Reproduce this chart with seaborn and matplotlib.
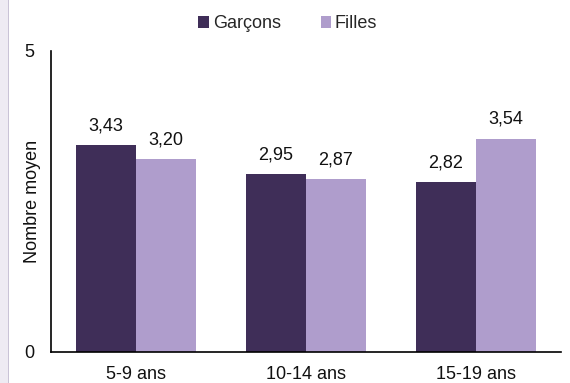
import matplotlib
matplotlib.use("Agg")
import matplotlib.pyplot as plt
from matplotlib.patches import Rectangle, Patch
import seaborn as sns
import pandas as pd

# Average number by age group and sex
age_groups = ["5-9 ans", "10-14 ans", "15-19 ans"]
garcons = [3.43, 2.95, 2.82]
filles = [3.20, 2.87, 3.54]
series_names = ["Garçons", "Filles"]
colors = ["#3F2E58", "#AF9DCC"]

df = pd.DataFrame({
    "age": age_groups * 2,
    "sexe": [series_names[0]] * 3 + [series_names[1]] * 3,
    "valeur": garcons + filles,
})

sns.set_theme(style="white")
plt.rcParams["font.family"] = ["Liberation Sans", "DejaVu Sans"]

fig = plt.figure(figsize=(5.70, 3.83), dpi=100)
ax = fig.add_axes([0.0895, 0.081, 0.8945, 0.786])

sns.barplot(data=df, x="age", y="valeur", hue="sexe", order=age_groups,
            hue_order=series_names, palette=colors, width=0.706,
            linewidth=0, saturation=1, ax=ax, legend=False)

for cont in ax.containers:
    ax.bar_label(cont, labels=[f"{v:.2f}".replace(".", ",") for v in cont.datavalues],
                 padding=8, fontsize=13, color="#111111")

ax.set_ylim(0, 5)
ax.set_yticks([0, 5])
ax.set_yticklabels(["0", "5"])
ax.set_xlim(-0.5, 2.5)
ax.set_xlabel("")
ax.set_ylabel("Nombre moyen", fontsize=13, color="#111111")
ax.yaxis.set_label_coords(-0.019, 0.5)
ax.tick_params(axis="both", length=0, labelsize=13, colors="#111111")
ax.tick_params(axis="y", pad=12)
ax.tick_params(axis="x", pad=10)
for side in ["top", "right"]:
    ax.spines[side].set_visible(False)
for side in ["left", "bottom"]:
    ax.spines[side].set_color("black")
    ax.spines[side].set_linewidth(1.2)

handles = [Patch(facecolor=c, edgecolor="none") for c in colors]
fig.legend(handles, series_names, loc="center", bbox_to_anchor=(0.505, 0.938),
           ncol=2, frameon=False, fontsize=13, handlelength=0.6, handleheight=0.6,
           handletextpad=0.2, columnspacing=2.2)

# decorative side band on the left edge
fig.add_artist(Rectangle((0, 0), 8 / 570, 1, transform=fig.transFigure,
                         facecolor="#EEEBF3", edgecolor="none", zorder=0))
fig.add_artist(Rectangle((8 / 570, 0), 1.2 / 570, 1, transform=fig.transFigure,
                         facecolor="#C9C3D6", edgecolor="none", zorder=0))

fig.savefig("out.png", dpi=100)
